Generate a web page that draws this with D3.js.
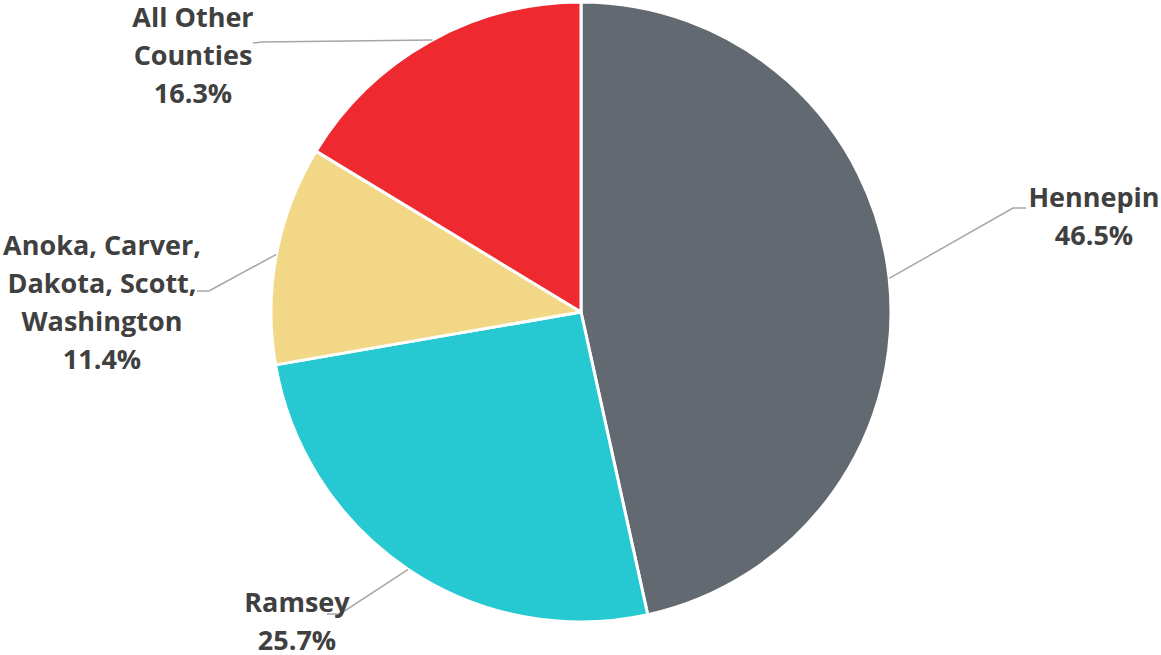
<!DOCTYPE html>
<html><head><meta charset="utf-8">
<script src="https://cdn.jsdelivr.net/npm/d3@7"></script>
<style>html,body{margin:0;padding:0;background:#fff;}svg{display:block;}</style>
</head><body>
<svg id="chart" width="1161" height="655"></svg>
<script>
const categories = ["Hennepin", "Ramsey", "Anoka, Carver, Dakota, Scott, Washington", "All Other Counties"];
const values = [46.5, 25.7, 11.4, 16.3];
const labelLines = [["Hennepin"], ["Ramsey"], ["Anoka, Carver,", "Dakota, Scott,", "Washington"], ["All Other", "Counties"]];
const valueLabels = ["46.5%", "25.7%", "11.4%", "16.3%"];
const colors = ["#636970", "#26C9D2", "#F2D886", "#EE2A30"];

const svg = d3.select("#chart");
const cx = 581, cy = 312, R = 310;
const g = svg.append("g").attr("transform", `translate(${cx},${cy})`);

const pie = d3.pie().sort(null).value(d => d)(values);
const arc = d3.arc().innerRadius(0).outerRadius(R);

g.selectAll("path.slice").data(pie).enter().append("path")
  .attr("class", "slice")
  .attr("d", arc)
  .attr("fill", (d, i) => colors[i])
  .attr("stroke", "#fff")
  .attr("stroke-width", 3)
  .attr("stroke-linejoin", "round");

// label layout (positions only)
const layout = [
  {x: 1094, y: 207, elbow: [1013, 208], end: [1026, 208], mode: "mid"},
  {x: 297, y: 612, elbow: [340, 614], end: [327, 614], mode: "mid"},
  {x: 102, y: 255, elbow: [209, 291], end: [197, 291], mode: "mid"},
  {x: 193, y: 27, elbow: [262, 42], end: [253, 43], mode: "y", yy: 40}
];
const lineH = 38;

pie.forEach((d, i) => {
  const L = layout[i];
  let px, py;
  if (L.mode === "mid") {
    const a = (d.startAngle + d.endAngle) / 2;
    px = cx + R * Math.sin(a); py = cy - R * Math.cos(a);
  } else {
    const dy = L.yy - cy;
    px = cx - Math.sqrt(R * R - dy * dy); py = L.yy;
  }
  svg.append("polyline")
    .attr("points", [[px, py], L.elbow, L.end].map(p => p.join(",")).join(" "))
    .attr("fill", "none").attr("stroke", "#A6A6A6").attr("stroke-width", 1.5);
  const lines = labelLines[i].concat([valueLabels[i]]);
  const t = svg.append("text")
    .attr("text-anchor", "middle")
    .attr("font-family", "'Open Sans', Lato, sans-serif")
    .attr("font-weight", "bold")
    .attr("font-size", 27)
    .attr("fill", "#404040");
  lines.forEach((s, j) => {
    t.append("tspan").attr("x", L.x).attr("y", L.y + j * lineH).text(s);
  });
});
</script>
</body></html>
